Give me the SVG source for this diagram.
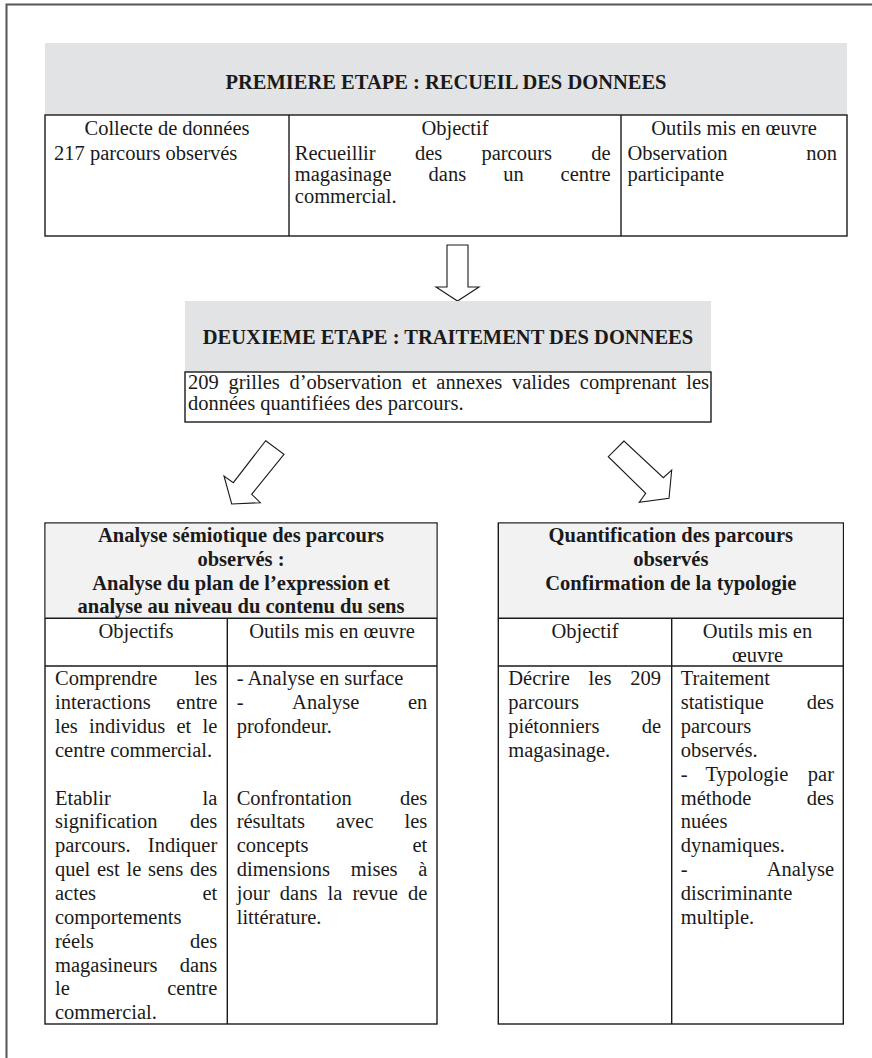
<svg xmlns="http://www.w3.org/2000/svg" width="872" height="1058" viewBox="0 0 872 1058">
<style>
text{font-family:"Liberation Serif","Times New Roman",serif;font-size:20.5px;fill:#1a1a1a}
.b{font-weight:bold}
.m{text-anchor:middle}
.e{text-anchor:end}
.box{fill:#fff;stroke:#1a1a1a;stroke-width:1.4}
.ln{stroke:#1a1a1a;stroke-width:1.4;fill:none}
.g1{fill:#e2e3e5}
.g2{fill:#f2f2f2}
.arr{fill:#fff;stroke:#1a1a1a;stroke-width:1.1;stroke-linejoin:miter}
</style>
<rect width="872" height="1058" fill="#fff"/>
<g id="frame"><path d="M6.5,1058 V4.5 H872" fill="none" stroke="#555" stroke-width="2"/></g>

<g id="etape1">
<rect class="g1" x="45" y="43" width="802" height="72"/>
<text class="b m" x="446" y="88.5">PREMIERE ETAPE : RECUEIL DES DONNEES</text>
<rect class="box" x="45" y="115" width="802" height="121"/>
<line class="ln" x1="289" y1="115" x2="289" y2="236"/>
<line class="ln" x1="621" y1="115" x2="621" y2="236"/>
<text class="m" x="167" y="134.5">Collecte de données</text>
<text class="m" x="455" y="134.5">Objectif</text>
<text class="m" x="734" y="134.5">Outils mis en œuvre</text>
<text x="54" y="159.5">217 parcours observés</text>
<text x="294.8" y="159.5">Recueillir</text><text x="414.9" y="159.5">des</text><text x="481.4" y="159.5">parcours</text><text class="e" x="610.7" y="159.5">de</text>
<text x="294.8" y="181">magasinage</text><text x="428.6" y="181">dans</text><text x="503.2" y="181">un</text><text class="e" x="610.7" y="181">centre</text>
<text x="294.8" y="202.7">commercial.</text>
<text x="627.4" y="159.5">Observation</text><text class="e" x="837" y="159.5">non</text>
<text x="627.4" y="181">participante</text>
</g>

<g id="connectors">
<polygon class="arr" points="447,245 468,245 468,287 479,287 457.5,301 436,287 447,287"/>
<polygon class="arr" points="265.7,440.7 284,454.3 251.7,494.3 260.3,502.7 231.7,504 224,476 233.3,482.7"/>
<polygon class="arr" points="624,441 608.3,456.7 645.7,493.3 639.3,502.3 669,498.3 671.7,470 663.3,477.7"/>
</g>

<g id="etape2">
<rect class="g1" x="185" y="301" width="526" height="71"/>
<text class="b m" x="448" y="343.5">DEUXIEME ETAPE : TRAITEMENT DES DONNEES</text>
<rect class="box" x="185" y="372" width="526" height="50"/>
<text x="188" y="389">209</text><text x="228.5" y="389">grilles</text><text x="289.4" y="389">d’observation</text><text x="411.8" y="389">et</text><text x="436.3" y="389">annexes</text><text x="512" y="389">valides</text><text x="579.8" y="389">comprenant</text><text class="e" x="709" y="389">les</text>
<text x="188" y="410">données quantifiées des parcours.</text>
</g>

<g id="semiotique">
<rect class="box" x="45" y="523" width="392" height="501"/>
<rect class="g2" x="45.7" y="523.7" width="390.6" height="94.6"/>
<line class="ln" x1="45" y1="618.3" x2="437" y2="618.3"/>
<line class="ln" x1="45" y1="666" x2="437" y2="666"/>
<line class="ln" x1="227.3" y1="618.3" x2="227.3" y2="1024"/>
<text class="b m" x="241" y="542">Analyse sémiotique des parcours</text>
<text class="b m" x="241" y="566">observés :</text>
<text class="b m" x="241" y="590">Analyse du plan de l’expression et</text>
<text class="b m" x="241" y="613">analyse au niveau du contenu du sens</text>
<text class="m" x="136" y="637.7">Objectifs</text>
<text class="m" x="332" y="637.7">Outils mis en œuvre</text>

<text x="55" y="685.3">Comprendre</text><text class="e" x="217.3" y="685.3">les</text>
<text x="55" y="709.2">interactions</text><text class="e" x="217.3" y="709.2">entre</text>
<text x="55" y="733">les</text><text x="89" y="733">individus</text><text x="176.5" y="733">et</text><text class="e" x="217.3" y="733">le</text>
<text x="55" y="756.9">centre commercial.</text>
<text x="55" y="804.6">Etablir</text><text class="e" x="217.3" y="804.6">la</text>
<text x="55" y="828.4">signification</text><text class="e" x="217.3" y="828.4">des</text>
<text x="55" y="852.3">parcours.</text><text class="e" x="217.3" y="852.3">Indiquer</text>
<text x="55" y="876.1">quel</text><text x="97" y="876.1">est</text><text x="126.5" y="876.1">le</text><text x="148" y="876.1">sens</text><text class="e" x="217.3" y="876.1">des</text>
<text x="55" y="900">actes</text><text class="e" x="217.3" y="900">et</text>
<text x="55" y="923.8">comportements</text>
<text x="55" y="947.7">réels</text><text class="e" x="217.3" y="947.7">des</text>
<text x="55" y="971.5">magasineurs</text><text class="e" x="217.3" y="971.5">dans</text>
<text x="55" y="995.4">le</text><text class="e" x="217.3" y="995.4">centre</text>
<text x="55" y="1019.2">commercial.</text>

<text x="236.7" y="685.3">- Analyse en surface</text>
<text x="236.7" y="709.2">-</text><text x="292.1" y="709.2">Analyse</text><text class="e" x="427.3" y="709.2">en</text>
<text x="236.7" y="733">profondeur.</text>
<text x="236.7" y="804.6">Confrontation</text><text class="e" x="427.3" y="804.6">des</text>
<text x="236.7" y="828.4">résultats</text><text x="336" y="828.4">avec</text><text class="e" x="427.3" y="828.4">les</text>
<text x="236.7" y="852.3">concepts</text><text class="e" x="427.3" y="852.3">et</text>
<text x="236.7" y="876.1">dimensions</text><text x="350.8" y="876.1">mises</text><text class="e" x="427.3" y="876.1">à</text>
<text x="236.7" y="900">jour</text><text x="279.8" y="900">dans</text><text x="327.5" y="900">la</text><text x="352.4" y="900">revue</text><text class="e" x="427.3" y="900">de</text>
<text x="236.7" y="923.8">littérature.</text>
</g>

<g id="quantification">
<rect class="box" x="498.3" y="523" width="345" height="501"/>
<rect class="g2" x="499" y="523.7" width="343.6" height="94.6"/>
<line class="ln" x1="498.3" y1="618.3" x2="843.3" y2="618.3"/>
<line class="ln" x1="498.3" y1="666" x2="843.3" y2="666"/>
<line class="ln" x1="671.7" y1="618.3" x2="671.7" y2="1024"/>
<text class="b m" x="670.8" y="542">Quantification des parcours</text>
<text class="b m" x="670.8" y="566">observés</text>
<text class="b m" x="670.8" y="590">Confirmation de la typologie</text>
<text class="m" x="585" y="637.7">Objectif</text>
<text class="m" x="757.5" y="637.7">Outils mis en</text>
<text class="m" x="757.5" y="662">œuvre</text>

<text x="508.3" y="685.3">Décrire</text><text x="588.6" y="685.3">les</text><text class="e" x="661" y="685.3">209</text>
<text x="508.3" y="709.2">parcours</text>
<text x="508.3" y="733">piétonniers</text><text class="e" x="661" y="733">de</text>
<text x="508.3" y="756.9">magasinage.</text>

<text x="680.7" y="685.3">Traitement</text>
<text x="680.7" y="709.2">statistique</text><text class="e" x="834" y="709.2">des</text>
<text x="680.7" y="733">parcours</text>
<text x="680.7" y="756.9">observés.</text>
<text x="680.7" y="780.7">-</text><text x="705.5" y="780.7">Typologie</text><text class="e" x="834" y="780.7">par</text>
<text x="680.7" y="804.6">méthode</text><text class="e" x="834" y="804.6">des</text>
<text x="680.7" y="828.4">nuées</text>
<text x="680.7" y="852.3">dynamiques.</text>
<text x="680.7" y="876.1">-</text><text class="e" x="834" y="876.1">Analyse</text>
<text x="680.7" y="900">discriminante</text>
<text x="680.7" y="923.8">multiple.</text>
</g>
</svg>
